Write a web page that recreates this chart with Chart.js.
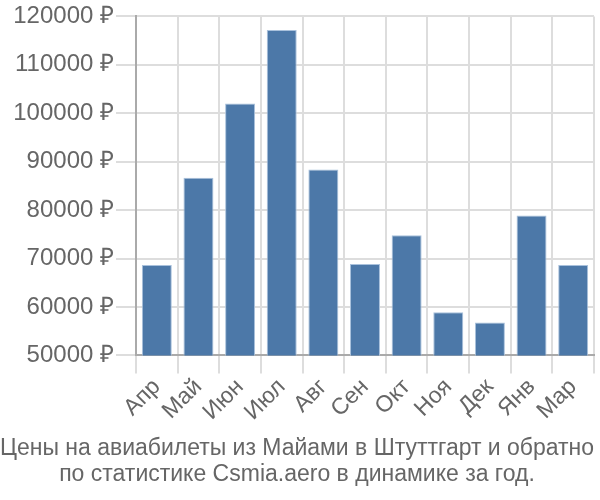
<!DOCTYPE html>
<html>
<head>
<meta charset="utf-8">
<script src="https://cdn.jsdelivr.net/npm/chart.js@4/dist/chart.umd.min.js"></script>
<style>
  html, body { margin: 0; padding: 0; background: #fff; }
  #wrap { width: 600px; height: 500px; }
</style>
</head>
<body>
<div id="wrap"><canvas id="chart"></canvas></div>
<script>
const months = ["Апр", "Май", "Июн", "Июл", "Авг", "Сен", "Окт", "Ноя", "Дек", "Янв", "Мар"];
const prices = [68700, 86700, 102000, 117200, 88400, 68900, 74800, 58900, 56800, 78900, 68700];
const titleLines = [
  "Цены на авиабилеты из Майами в Штуттгарт и обратно",
  "по статистике Csmia.aero в динамике за год.",
];

const font = "'Liberation Sans', Arial, sans-serif";

new Chart(document.getElementById("chart").getContext("2d"), {
  type: "bar",
  data: {
    labels: months,
    datasets: [
      {
        data: prices,
        backgroundColor: "#4c78a8",
        borderColor: "#a9c1dc",
        borderWidth: 1,
      },
    ],
  },
  options: {
    responsive: true,
    maintainAspectRatio: false,
    animation: false,
    layout: { padding: { right: 6, top: 4 } },
    plugins: {
      legend: { display: false },
      tooltip: { enabled: false },
      title: {
        display: true,
        position: "bottom",
        text: titleLines,
        color: "#666666",
        font: { size: 23, family: font, weight: "normal", lineHeight: 1.13 },
        padding: { top: 10, bottom: 12 },
      },
    },
    scales: {
      x: {
        grid: { color: "#dddddd", lineWidth: 2, offset: true, tickLength: 18 },
        border: { color: "#aaaaaa", width: 2 },
        ticks: {
          color: "#666666",
          font: { size: 23, family: font },
          maxRotation: 45,
          minRotation: 45,
          autoSkip: false,
          padding: 0,
        },
      },
      y: {
        min: 50000,
        max: 120000,
        afterFit: (scale) => {
          scale.width = 136;
        },
        grid: { color: "#dddddd", lineWidth: 2, tickLength: 20 },
        border: { color: "#aaaaaa", width: 2 },
        ticks: {
          stepSize: 10000,
          color: "#666666",
          font: { size: 24, family: font },
          padding: 2,
          callback: (value) => value + " ₽",
        },
      },
    },
  },
});
</script>
</body>
</html>
